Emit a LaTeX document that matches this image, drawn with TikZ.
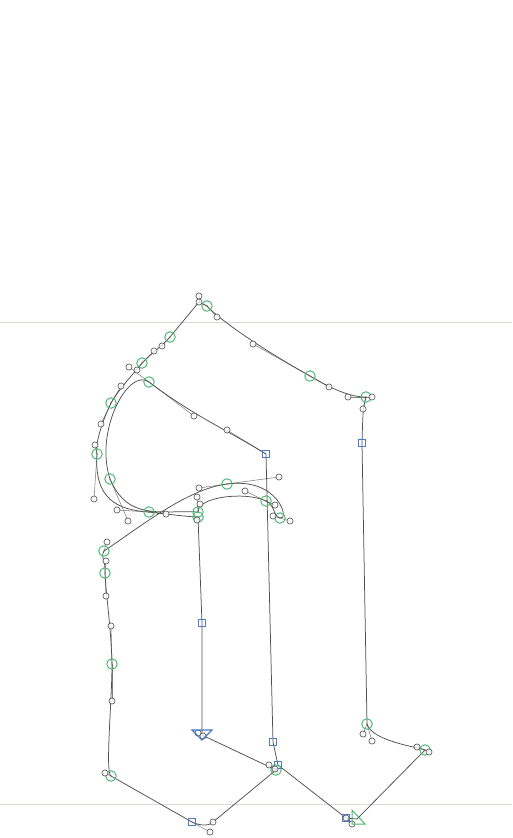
\documentclass[tikz,border=0pt]{standalone}
\usetikzlibrary{backgrounds}
\definecolor{curvec}{HTML}{505050}
\definecolor{handlec}{HTML}{808080}
\definecolor{guidec}{HTML}{DDD9D5}
\definecolor{oncol}{HTML}{4DBB75}
\definecolor{sqcol}{HTML}{4A7CC8}
\tikzset{
  x=1pt,y=-1pt,
  offpt/.style={circle,draw=black!70,fill=white,fill opacity=.8,line width=.6pt,minimum size=6.2pt,inner sep=0pt},
  onpt/.style={circle,draw=oncol,line width=1pt,minimum size=10.5pt,inner sep=0pt,
    append after command={(\tikzlastnode.center) node[circle,fill=black!60,minimum size=1.4pt,inner sep=0pt]{}}},
  sqpt/.style={rectangle,draw=sqcol,line width=1pt,minimum size=7.5pt,inner sep=0pt},
  curve/.style={draw=curvec,line width=.75pt},
  handle/.style={draw=handlec,line width=.55pt},
  guide/.style={draw=guidec,line width=1pt},
}
\begin{document}
\begin{tikzpicture}
\useasboundingbox (0,0) rectangle (512,838);
% on-curve points
\foreach \n/\x/\y in {a/425/750,b/367/724,d/366/397,e/310/376,f/207/306,g/170/337,h/142/363,i/111/403,j/97/454,k/149/512,l/198/517,m/276/770,n/111/776,o/112/664,q/105/573,r/104/551,s/227/484,t/280/518,u/266/501,v/198/512,w/110/479,xx/149/382}
  \node[onpt] (\n) at (\x,\y) {};
% corner points
\foreach \n/\x/\y in {sa/362/443,sb/202/623,sd/192/822,se/266/454,sf/273/742,sg/278/765,sh/346/818}
  \node[sqpt] (\n) at (\x,\y) {};
% off-curve points
\foreach \n/\x/\y in {c1/429/752,c2/417/747,c3/372/741,c4/363/734,c5/372/397,c6/363/409,c7/348/397,c8/329/387,c9/253/344,c10/217/317,c11/199/302,c12/199/296,c13/162/346,c14/154/351,c15/137/370,c16/121/386,c17/101/424,c18/95/445,c19/94/499,c20/117/510,c21/166/514,c22/197/520,c23/213/822,c24/210/832,c25/105/773,c26/112/701,c27/111/626,c28/106/596,c29/106/561,c30/107/542,c31/199/488,c32/279/477,c33/290/521,c34/273/516,c35/275/505,c36/245/491,c37/197/497,c38/128/521,c39/200/504,c40/129/367,c41/194/416,c42/227/430,c43/198/733,c44/203/736,c45/269/765,c46/275/769,c47/352/824,c48/346/818}
  \node[offpt] (\n) at (\x,\y) {};
% start and end triangles
\coordinate (ts) at (357,819);
\coordinate (te) at (202,735);
\coordinate (ts1) at (352,810); \coordinate (ts2) at (365,824); \coordinate (ts3) at (352,824);
\coordinate (te1) at (192,730); \coordinate (te2) at (212,730); \coordinate (te3) at (202,740);
\draw[draw=oncol,line width=1pt] (ts1) -- (ts2) -- (ts3) -- cycle;
\draw[draw=sqcol,line width=1.1pt] (te1) -- (te2) -- (te3) -- cycle;
\begin{scope}[on background layer]
  \draw[guide] (0,322) coordinate (g1) -- (512,322) coordinate (g2);
  \draw[guide] (0,804) coordinate (g3) -- (512,804) coordinate (g4);
  % handles
  \foreach \p/\q in {a/c1,a/c2,b/c3,b/c4,d/c5,d/c6,d/c7,e/c8,e/c9,f/c10,f/c11,c11/c12,g/c13,h/c14,h/c15,i/c16,i/c17,j/c18,j/c19,k/c20,k/c21,l/c22,sd/c24,n/c25,o/c26,o/c27,q/c28,q/c29,r/c30,s/c31,s/c32,t/c33,t/c34,u/c35,u/c36,v/c37,v/c39,w/c38,xx/c40,xx/c41,se/c42,m/c45,m/c46,sh/c47}
    \draw[handle] (\p.center) -- (\q.center);
  % main contour
  \draw[curve] (ts) -- (a.center)
    .. controls (c2.center) and (c3.center) .. (b.center)
    -- (sa.center)
    .. controls (c6.center) and (c6.center) .. (d.center)
    .. controls (c7.center) and (c8.center) .. (e.center)
    .. controls (c9.center) and (c10.center) .. (f.center)
    -- (c11.center) -- (g.center)
    .. controls (c13.center) and (c14.center) .. (h.center)
    .. controls (c15.center) and (c16.center) .. (i.center)
    .. controls (c17.center) and (c18.center) .. (j.center)
    .. controls (c19.center) and (c20.center) .. (k.center)
    .. controls (c21.center) and (190,517) .. (l.center)
    -- (sb.center) -- (te) -- (m.center) -- (c23.center)
    .. controls (210,826) and (200,826) .. (sd.center)
    -- (n.center)
    .. controls (c25.center) and (c26.center) .. (o.center)
    .. controls (c27.center) and (c28.center) .. (q.center)
    .. controls (c29.center) and (100,558) .. (r.center)
    .. controls (140,527) and (187,489) .. (s.center)
    .. controls (c32.center) and (c33.center) .. (t.center)
    .. controls (c34.center) and (c35.center) .. (u.center)
    .. controls (c36.center) and (c37.center) .. (v.center)
    .. controls (160,510) and (c38.center) .. (w.center)
    .. controls (94,430) and (c40.center) .. (xx.center)
    .. controls (c41.center) and (c42.center) .. (se.center)
    -- (sf.center) -- (sg.center) -- (sh.center) -- cycle;
\end{scope}
\end{tikzpicture}
\end{document}
